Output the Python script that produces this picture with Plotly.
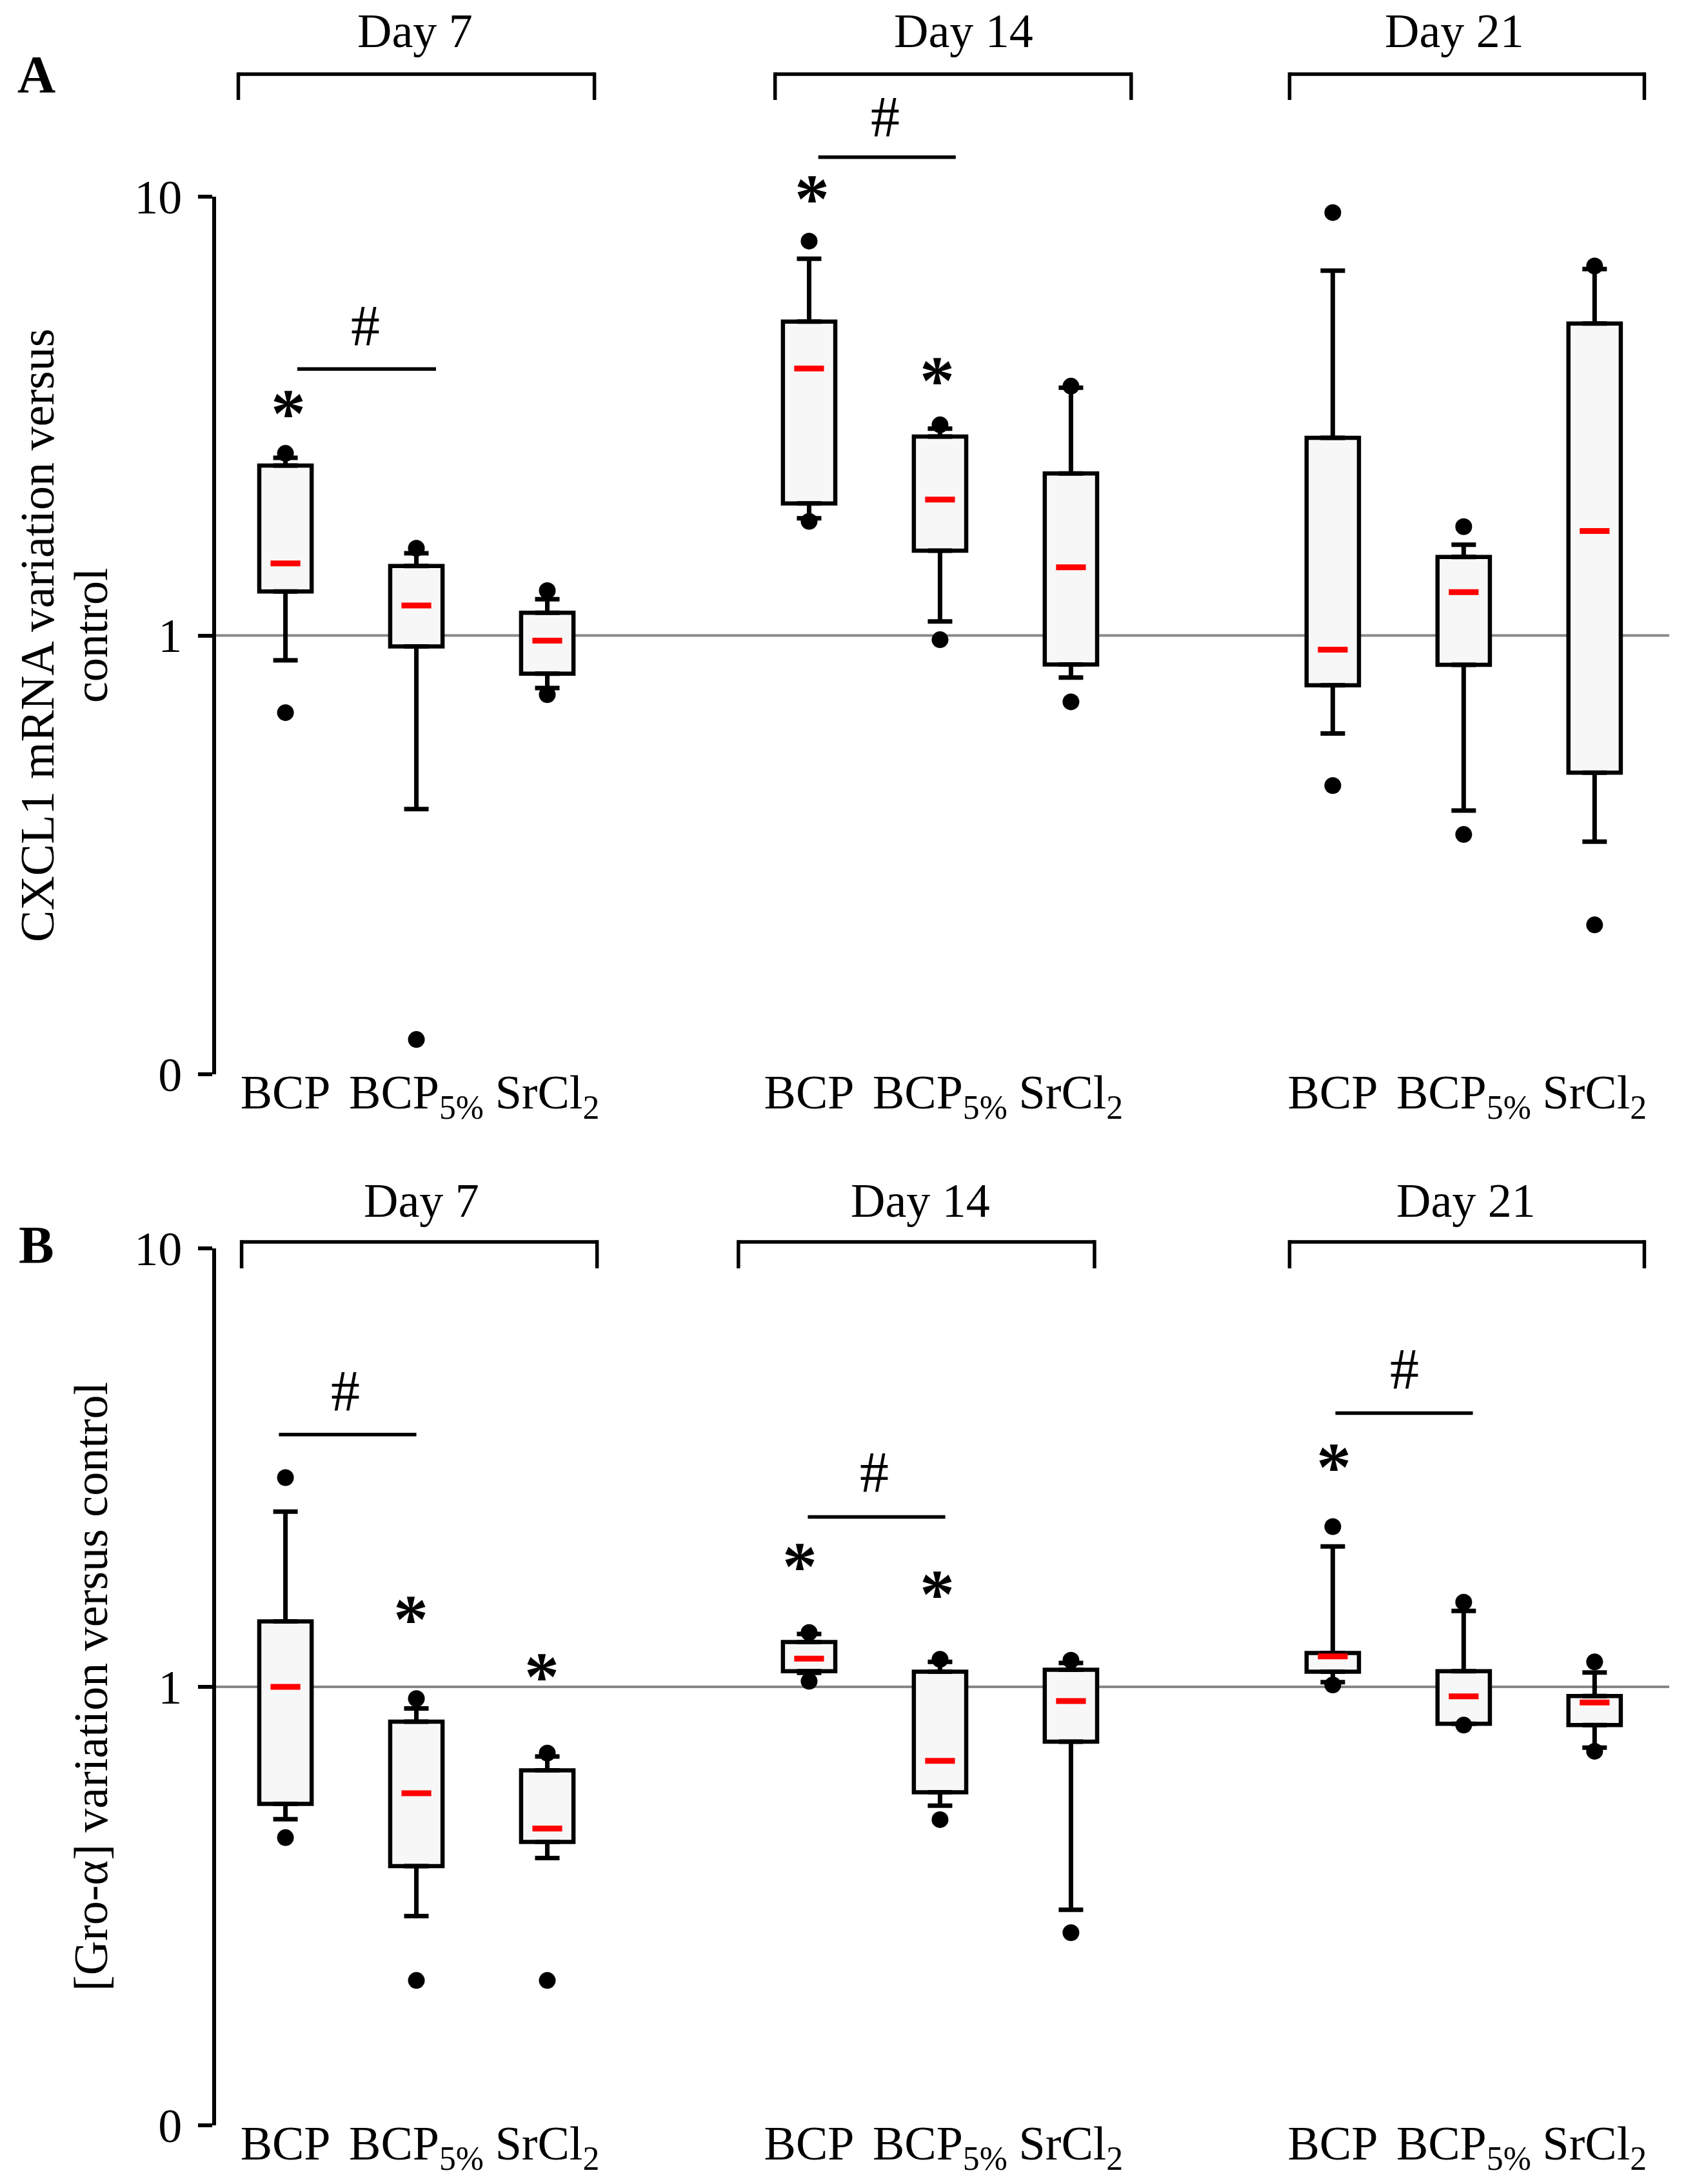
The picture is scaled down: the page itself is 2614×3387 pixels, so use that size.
import math
import plotly.graph_objects as go

# box-plot summaries (fold change versus control)
groups = ["BCP", "BCP<sub>5%</sub>", "SrCl<sub>2</sub>"] * 3
days = ["Day 7", "Day 14", "Day 21"]

# panel A: CXCL1 mRNA
q1_a = [1.26, 0.944, 0.818, 2.00, 1.56, 0.859, 0.77, 0.857, 0.487]
med_a = [1.46, 1.17, 0.973, 4.06, 2.04, 1.43, 0.928, 1.256, 1.73]
q3_a = [2.44, 1.44, 1.127, 5.19, 2.84, 2.34, 2.82, 1.51, 5.14]
lo_a = [0.878, 0.402, 0.759, 1.85, 1.076, 0.802, 0.598, 0.399, 0.339]
hi_a = [2.54, 1.54, 1.21, 7.22, 2.96, 3.67, 6.78, 1.61, 6.84]
min_a = [0.667, 0.12, 0.733, 1.82, 0.978, 0.706, 0.455, 0.352, 0.219]
max_a = [2.60, 1.58, 1.265, 7.92, 3.02, 3.70, 9.2, 1.77, 6.95]

# panel B: [Gro-alpha]
q1_b = [0.541, 0.39, 0.443, 1.086, 0.575, 0.75, 1.083, 0.824, 0.818]
med_b = [1.0, 0.572, 0.475, 1.16, 0.678, 0.928, 1.174, 0.951, 0.921]
q3_b = [1.41, 0.833, 0.645, 1.265, 1.083, 1.094, 1.195, 1.086, 0.953]
lo_b = [0.499, 0.30, 0.407, 1.076, 0.536, 0.31, 1.025, 0.824, 0.727]
hi_b = [2.51, 0.893, 0.694, 1.32, 1.14, 1.133, 2.09, 1.49, 1.078]
min_b = [0.453, 0.214, 0.214, 1.03, 0.498, 0.275, 1.01, 0.818, 0.713]
max_b = [3.0, 0.94, 0.706, 1.33, 1.156, 1.15, 2.32, 1.56, 1.14]

x_pos = [0, 1, 2, 4, 5, 6, 8, 9, 10]

FONT = "Liberation Serif"
BOX_FILL = "#f7f7f7"
# the page body has an 8px margin, so the figure is a bit smaller than the window
PAD = 8
W, H = 2614 - 2 * PAD, 3387 - 2 * PAD


def px_x(v):
    return (v - PAD) / W


def px_y(v):
    return 1 - (v - PAD) / H


def add_panel(fig, xa, ya, q1, med, q3, lo, hi, mn, mx):
    # boxes (q1 -> q3)
    fig.add_trace(go.Bar(
        x=x_pos, y=[b - a for a, b in zip(q1, q3)], base=q1, width=0.4,
        marker=dict(color=BOX_FILL, line=dict(color="black", width=6.5)),
        xaxis=xa, yaxis=ya, hoverinfo="skip"
    ))
    # upper whiskers
    fig.add_trace(go.Scatter(
        x=x_pos, y=q3, mode="markers", marker=dict(size=1, color="rgba(0,0,0,0)"),
        error_y=dict(type="data", symmetric=False,
                     array=[h - t for h, t in zip(hi, q3)], arrayminus=[0] * len(q3),
                     color="black", thickness=7, width=19),
        xaxis=xa, yaxis=ya, hoverinfo="skip"
    ))
    # lower whiskers
    fig.add_trace(go.Scatter(
        x=x_pos, y=q1, mode="markers", marker=dict(size=1, color="rgba(0,0,0,0)"),
        error_y=dict(type="data", symmetric=False,
                     array=[0] * len(q1), arrayminus=[b - l for b, l in zip(q1, lo)],
                     color="black", thickness=7, width=19),
        xaxis=xa, yaxis=ya, hoverinfo="skip"
    ))
    # min / max points
    fig.add_trace(go.Scatter(
        x=x_pos + x_pos, y=mn + mx, mode="markers",
        marker=dict(size=26, color="black"),
        xaxis=xa, yaxis=ya, cliponaxis=False
    ))
    # medians
    fig.add_trace(go.Scatter(
        x=x_pos, y=med, mode="markers",
        marker=dict(symbol="line-ew", size=33, color="red", line=dict(color="red", width=9)),
        xaxis=xa, yaxis=ya
    ))


fig = go.Figure()
add_panel(fig, "x", "y", q1_a, med_a, q3_a, lo_a, hi_a, min_a, max_a)
add_panel(fig, "x2", "y2", q1_b, med_b, q3_b, lo_b, hi_b, min_b, max_b)


def dom(v):
    # value -> fraction of the y domain (log axis spans 0.1 .. 10)
    return (math.log10(v) + 1) / 2


shapes = []
annotations = []


def note(text, size, **kw):
    annotations.append(dict(text=text, showarrow=False, xanchor="center", yanchor="middle",
                            font=dict(family=FONT, size=size, color="black"), **kw))


panels = [
    dict(xr="x", yr="y",
         brackets=[(-0.36, 2.36), (3.74, 6.46), (7.67, 10.38)],
         bracket_y=(1.1396, 1.1102), day_x=[0.99, 5.18, 8.93], day_y=1.1888,
         stars=[(0.02, 3.37), (4.02, 10.4), (4.98, 4.01)],
         hashes=[(0.09, 1.15, 4.05, 0.61, 5.07), (4.07, 5.12, 12.3, 4.58, 15.2)],
         letter="A", letter_y=115),
    dict(xr="x2", yr="y2",
         brackets=[(-0.335, 2.38), (3.46, 6.18), (7.67, 10.38)],
         bracket_y=(1.0074, 0.9772), day_x=[1.04, 4.85, 9.02], day_y=1.0544,
         stars=[(0.96, 1.50), (1.96, 1.11), (3.93, 1.98), (4.98, 1.71), (8.01, 3.33)],
         hashes=[(-0.05, 1.0, 3.76, 0.46, 4.72), (3.99, 5.04, 2.44, 4.50, 3.08),
                 (8.02, 9.07, 4.21, 8.55, 5.30)],
         letter="B", letter_y=1930),
]

for p in panels:
    yd = p["yr"] + " domain"
    line = dict(color="black", width=5.5)
    # reference line at 1
    shapes.append(dict(type="line", xref=p["xr"] + " domain", yref=yd, x0=0, x1=1,
                       y0=dom(1), y1=dom(1), line=dict(color="#888888", width=4), layer="below"))
    top, hook = p["bracket_y"]
    for (b0, b1), dx, day in zip(p["brackets"], p["day_x"], days):
        shapes.append(dict(type="line", xref=p["xr"], yref=yd, x0=b0, x1=b1, y0=top, y1=top, line=line))
        for bx in (b0, b1):
            shapes.append(dict(type="line", xref=p["xr"], yref=yd, x0=bx, x1=bx,
                               y0=top + 0.002, y1=hook, line=line))
        note(day, 74, xref=p["xr"], yref=yd, x=dx, y=p["day_y"])
    for sx, sy in p["stars"]:
        note("<b>*</b>", 108, xref=p["xr"], yref=yd, x=sx, y=dom(sy), yshift=-15)
    for h0, h1, hy, tx, ty in p["hashes"]:
        shapes.append(dict(type="line", xref=p["xr"], yref=yd, x0=h0, x1=h1,
                           y0=dom(hy), y1=dom(hy), line=line))
        note("#", 90, xref=p["xr"], yref=yd, x=tx, y=dom(ty))
    note("<b>%s</b>" % p["letter"], 82, xref="paper", yref="paper",
         x=px_x(56), y=px_y(p["letter_y"]))

# y axis titles
note("CXCL1 mRNA variation versus", 74, xref="paper", yref="paper",
     x=px_x(58), y=px_y(985), textangle=-90)
note("control", 74, xref="paper", yref="paper", x=px_x(141), y=px_y(985), textangle=-90)
note("[Gro-α] variation versus control", 74, xref="paper", yref="paper",
     x=px_x(141), y=px_y(2616), textangle=-90)

tick_font = dict(family=FONT, size=74, color="black")
xaxis_style = dict(range=[-0.53, 10.57], domain=[px_x(335), px_x(2588)], showgrid=False,
                   zeroline=False, showline=False, ticks="", tickvals=x_pos,
                   ticktext=groups, tickfont=tick_font, automargin=False,
                   ticklabelstandoff=-22)
yaxis_style = dict(type="log", range=[-1, 1], tickvals=[0.1, 1, 10], ticktext=["0", "1", "10"],
                   showgrid=False, zeroline=False, showline=True, linecolor="black",
                   linewidth=6, ticks="outside", ticklen=22, tickwidth=6, tickcolor="black",
                   tickfont=tick_font, ticklabelstandoff=10, automargin=False)

fig.update_layout(
    width=W, height=H,
    margin=dict(l=0, r=0, t=0, b=0),
    paper_bgcolor="white", plot_bgcolor="white",
    showlegend=False, barmode="overlay",
    xaxis=dict(anchor="y", **xaxis_style),
    yaxis=dict(anchor="x", domain=[px_y(1666), px_y(305)], **yaxis_style),
    xaxis2=dict(anchor="y2", **xaxis_style),
    yaxis2=dict(anchor="x2", domain=[px_y(3296), px_y(1936)], **yaxis_style),
    shapes=shapes, annotations=annotations,
    font=dict(family=FONT, color="black"),
)

fig.write_html("out.html")
